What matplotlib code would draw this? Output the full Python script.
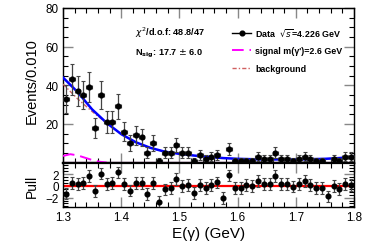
import matplotlib
matplotlib.use('Agg')
import matplotlib.pyplot as plt
from matplotlib.lines import Line2D
from matplotlib.ticker import MultipleLocator
import numpy as np

plt.rcParams['font.family'] = ['Liberation Sans', 'DejaVu Sans']

# Data: bin centres (width 0.010 GeV)
bin_centers = np.round(np.arange(1.305, 1.80, 0.01), 3)
counts = [33, 43, 37, 35, 39, 18, 35, 21, 21, 29,
          16, 10, 14, 13, 5, 10, 1, 5, 5, 9,
          5, 5, 1, 4, 2, 3, 4, 0, 7, 1,
          1, 1, 1, 3, 2, 2, 5, 2, 2, 1,
          2, 3, 2, 1, 1, 0, 2, 1, 3, 3]
count_err = [7.2, 8.2, 7.6, 7.4, 7.8, 5.3, 7.4, 5.7, 5.7, 6.7,
             5.0, 4.0, 4.7, 4.5, 2.8, 4.0, 1.3, 2.8, 2.8, 3.8,
             2.8, 2.8, 1.3, 2.5, 1.8, 2.2, 2.5, 0.0, 3.3, 1.3,
             1.3, 1.3, 1.3, 2.2, 1.8, 1.8, 2.8, 1.8, 1.8, 1.3,
             1.8, 2.2, 1.8, 1.3, 1.3, 0.0, 1.8, 1.3, 2.2, 2.2]
pulls = [-1.3, 0.5, 0.3, 0.5, 1.7, -0.9, 2.1, 0.3, 0.5, 2.3,
         0.3, -0.8, 0.5, 0.5, -1.4, 0.5, -2.8, -0.6, -0.4, 1.2,
         0.0, 0.2, -1.2, 0.2, -0.4, 0.2, 0.6, -2.1, 1.8, -0.4,
         -0.4, 0.2, 0.0, 0.8, 0.3, 0.3, 1.7, 0.3, 0.3, -0.1,
         0.3, 0.8, 0.2, -0.3, -0.3, -1.8, 0.0, -0.5, 0.3, 0.2]

# Fit curves
curve_x = [1.300, 1.325, 1.350, 1.375, 1.400, 1.425, 1.450, 1.475, 1.500, 1.525,
           1.550, 1.575, 1.600, 1.625, 1.650, 1.675, 1.700, 1.725, 1.750, 1.775, 1.800]
total_fit = [44.0, 36.5, 27.5, 20.5, 14.7, 10.5, 7.6, 5.6, 4.5, 3.6,
             2.9, 2.3, 1.9, 1.7, 1.6, 1.6, 1.6, 1.7, 1.9, 2.3, 2.9]
background_fit = [40.6, 33.0, 26.4, 20.4, 14.7, 10.5, 7.6, 5.6, 4.5, 3.6,
                  2.9, 2.3, 1.9, 1.7, 1.6, 1.6, 1.6, 1.7, 1.9, 2.3, 2.9]
signal_x = [1.300, 1.3125, 1.325, 1.3375, 1.350, 1.3625, 1.375]
signal_fit = [3.4, 4.3, 3.7, 2.5, 1.3, 0.4, 0.0]

W, H = 374, 253
fig = plt.figure(figsize=(W / 100, H / 100), dpi=100)
L, R = 63 / W, 354 / W
ax = fig.add_axes([L, 1 - 163.5 / H, R - L, (163.5 - 9) / H])
axp = fig.add_axes([L, 1 - 208 / H, R - L, (208 - 163.5) / H])

counts = np.array(counts, dtype=float)
count_err = np.array(count_err)
shown = counts > 0

ax.axhline(0, color='#a020a0', lw=1.6, zorder=2)
ax.plot(curve_x, background_fit, color='#d06060', lw=1.0, ls=(0, (3, 1.5, 1, 1.5)), zorder=3)
ax.plot(curve_x, total_fit, color='#0000ff', lw=1.8, zorder=4)
ax.plot(signal_x, signal_fit, color='#ff00ff', lw=1.4, ls=(0, (6, 3)), zorder=3)
ax.errorbar(bin_centers[shown], counts[shown], yerr=count_err[shown], xerr=0.005,
            fmt='o', color='black', ms=3.4, ecolor='#444444', elinewidth=0.9,
            capsize=1.2, capthick=0.8, zorder=5)

ax.set_xlim(1.3, 1.8)
ax.set_ylim(0, 80)
ax.set_yticks([20, 40, 60, 80])
ax.yaxis.set_minor_locator(MultipleLocator(5))
ax.xaxis.set_major_locator(MultipleLocator(0.1))
ax.xaxis.set_minor_locator(MultipleLocator(0.02))
ax.set_xticklabels([])

axp.axhline(0, color='red', lw=1.6, zorder=2)
axp.errorbar(bin_centers, pulls, yerr=1.0, fmt='o', color='black', ms=3.4,
             ecolor='#444444', elinewidth=0.9, capsize=1.2, capthick=0.8, zorder=5)
axp.set_xlim(1.3, 1.8)
axp.set_ylim(-3.6, 4.0)
axp.set_yticks([-2, 0, 2])
axp.yaxis.set_minor_locator(MultipleLocator(0.5))
axp.xaxis.set_minor_locator(MultipleLocator(0.02))
axp.set_xticks([1.3, 1.4, 1.5, 1.6, 1.7, 1.8])
axp.set_xticklabels(['1.3', '1.4', '1.5', '1.6', '1.7', '1.8'])

for a in (ax, axp):
    a.tick_params(which='both', direction='in', top=True, right=True, labelsize=8.4, pad=3)
    a.tick_params(which='major', length=7, width=1.0, color='#888888')
    a.tick_params(which='minor', length=3.5, width=0.8, color='black')
    for s in a.spines.values():
        s.set_linewidth(1.0)
ax.spines['bottom'].set_linewidth(1.6)
axp.spines['top'].set_linewidth(1.6)

# Legend
handles = [
    Line2D([], [], color='black', marker='o', ms=3.4, lw=1.0),
    Line2D([], [], color='#ff00ff', lw=1.4, ls=(0, (6, 3))),
    Line2D([], [], color='#d06060', lw=1.0, ls=(0, (3, 1.5, 1, 1.5))),
]
labels = [r'Data  $\sqrt{s}$=4.226 GeV', "signal m(\u03b3')=2.6 GeV", 'background']
ax.legend(handles, labels, loc='upper left', bbox_to_anchor=(0.565, 0.91), frameon=False,
          prop={'size': 6.4, 'weight': 'bold'}, handlelength=2.2, handletextpad=0.4,
          labelspacing=0.95, borderpad=0)

ax.text(0.247, 0.845, r'$\chi^2$/d.o.f: 48.8/47', transform=ax.transAxes,
        fontsize=6.6, fontweight='bold', va='center', ha='left')
ax.text(0.247, 0.709, r'N$_{\mathbf{sig}}$: 17.7 $\pm$ 6.0', transform=ax.transAxes,
        fontsize=6.6, fontweight='bold', va='center', ha='left')

fig.text(32 / W, 1 - 81 / H, 'Events/0.010', rotation=90, fontsize=10.5,
         ha='center', va='center')
fig.text(32 / W, 1 - 186.5 / H, 'Pull', rotation=90, fontsize=10,
         ha='center', va='center')
fig.text(208.5 / W, 1 - 234 / H, 'E(\u03b3) (GeV)', fontsize=11,
         ha='center', va='center')

fig.savefig('out.png', dpi=100)
